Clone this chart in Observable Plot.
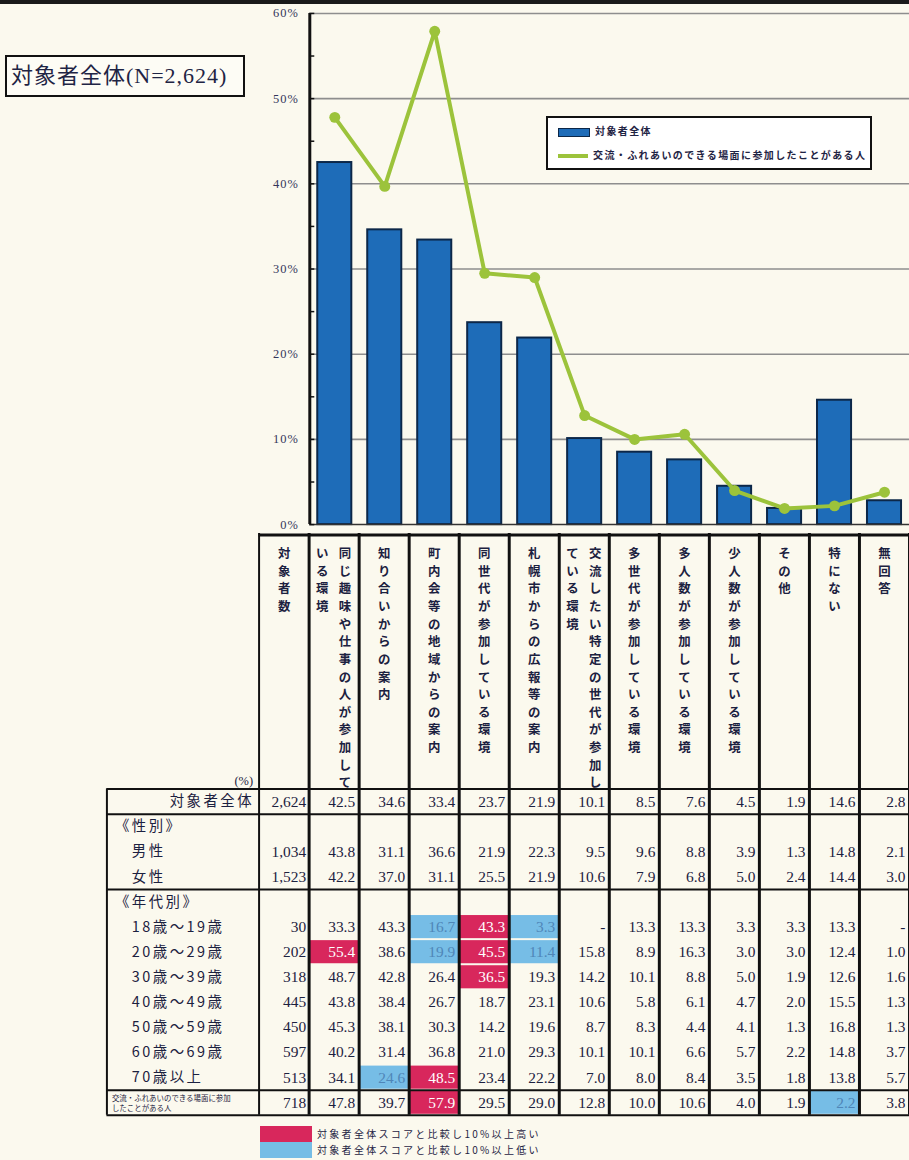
<!DOCTYPE html>
<html><head><meta charset="utf-8">
<script src="https://cdn.jsdelivr.net/npm/d3@7"></script>
<script src="https://cdn.jsdelivr.net/npm/@observablehq/plot@0.6"></script>
<style>
html,body{margin:0;padding:0;overflow:hidden;background:#fbf9ee;}
body{width:909px;height:1160px;position:relative;font-family:"Liberation Serif","Noto Sans CJK JP",serif;color:#1f2444;}
#topband{position:absolute;left:0;top:0;width:909px;height:4px;background:#1a1a1a;}
#title{position:absolute;left:5px;top:55px;width:232px;height:38px;border:2px solid #111;font-size:22px;line-height:38px;letter-spacing:1px;padding-left:4px;white-space:nowrap;background:#fdfcf5;}
#chart{position:absolute;left:0;top:0;}
#table{position:absolute;left:0;top:533px;}
#legend{position:absolute;left:546px;top:116px;width:322px;height:50px;border:2px solid #111;background:#fff;font-family:"Noto Sans CJK JP",sans-serif;font-size:10px;font-weight:bold;letter-spacing:1.4px;color:#1f2444;}
#legend .it{position:absolute;left:10px;height:14px;line-height:14px;white-space:nowrap;}
#legend .sw{display:inline-block;width:30px;vertical-align:middle;margin-right:5px;}
#tlegend{position:absolute;left:260px;top:1126px;font-family:"Noto Sans CJK JP",sans-serif;font-size:10px;letter-spacing:2.3px;color:#1f2444;}
#tlegend .it{height:16px;line-height:16px;white-space:nowrap;}
#tlegend .sw{display:inline-block;width:52px;height:16px;vertical-align:top;margin-right:5px;}
</style></head>
<body>
<div id="topband"></div>
<div id="chart"></div>
<div id="legend"></div>
<div id="title"></div>
<div id="table"></div>
<div id="tlegend"></div>
<script>
// ---------- data ----------
const cats = ["同じ趣味や仕事の人が参加している環境","知り合いからの案内","町内会等の地域からの案内","同世代が参加している環境","札幌市からの広報等の案内","交流したい特定の世代が参加している環境","多世代が参加している環境","多人数が参加している環境","少人数が参加している環境","その他","特にない","無回答"];
const headerLines = [["同じ趣味や仕事の人が参加して","いる環境"],["知り合いからの案内"],["町内会等の地域からの案内"],["同世代が参加している環境"],["札幌市からの広報等の案内"],["交流したい特定の世代が参加し","ている環境"],["多世代が参加している環境"],["多人数が参加している環境"],["少人数が参加している環境"],["その他"],["特にない"],["無回答"]];
const nHeader = "対象者数";
const seriesTotalName = "対象者全体";
const seriesLineName = "交流・ふれあいのできる場面に参加したことがある人";
const totalValues = [42.5,34.6,33.4,23.7,21.9,10.1,8.5,7.6,4.5,1.9,14.6,2.8];
const participantValues = [47.8,39.7,57.9,29.5,29.0,12.8,10.0,10.6,4.0,1.9,2.2,3.8];
const yTicks = [0,10,20,30,40,50,60];
const yMinorTicks = [0,5,10,15,20,25,30,35,40,45,50,55,60];

const rowLabels = ["対象者全体","《性別》","男性","女性","《年代別》","18歳～19歳","20歳～29歳","30歳～39歳","40歳～49歳","50歳～59歳","60歳～69歳","70歳以上","交流・ふれあいのできる場面に参加\nしたことがある人"];
const rowN = [2624,null,1034,1523,null,30,202,318,445,450,597,513,718];
const rowMale = [43.8,31.1,36.6,21.9,22.3,9.5,9.6,8.8,3.9,1.3,14.8,2.1];
const rowFemale = [42.2,37.0,31.1,25.5,21.9,10.6,7.9,6.8,5.0,2.4,14.4,3.0];
const row18 = [33.3,43.3,16.7,43.3,3.3,null,13.3,13.3,3.3,3.3,13.3,null];
const row20 = [55.4,38.6,19.9,45.5,11.4,15.8,8.9,16.3,3.0,3.0,12.4,1.0];
const row30 = [48.7,42.8,26.4,36.5,19.3,14.2,10.1,8.8,5.0,1.9,12.6,1.6];
const row40 = [43.8,38.4,26.7,18.7,23.1,10.6,5.8,6.1,4.7,2.0,15.5,1.3];
const row50 = [45.3,38.1,30.3,14.2,19.6,8.7,8.3,4.4,4.1,1.3,16.8,1.3];
const row60 = [40.2,31.4,36.8,21.0,29.3,10.1,10.1,6.6,5.7,2.2,14.8,3.7];
const row70 = [34.1,24.6,48.5,23.4,22.2,7.0,8.0,8.4,3.5,1.8,13.8,5.7];
const rowValues = [totalValues,null,rowMale,rowFemale,null,row18,row20,row30,row40,row50,row60,row70,participantValues];
const highLabel = "対象者全体スコアと比較し10%以上高い";
const lowLabel = "対象者全体スコアと比較し10%以上低い";

// ---------- styles ----------
const BLUE_BAR = "#1e6cb8", BAR_EDGE = "#0c2748", GREEN = "#9cc33b";
const PINK = "#d8275c", LIGHTBLUE = "#76bde6", INK = "#1c2140";
const W = 914;

// ---------- chart ----------
const barData = cats.map((c, i) => ({cat: c, i, v: totalValues[i]}));
const lineData = cats.map((c, i) => ({cat: c, i, v: participantValues[i]}));

const chart = Plot.plot({
  width: W, height: 533,
  marginLeft: 311, marginRight: 0, marginTop: 13, marginBottom: 6,
  x: {domain: [0, cats.length], axis: null},
  y: {domain: [0, 60], axis: null},
  style: {background: "transparent", overflow: "visible", fontFamily: "Liberation Serif"},
  marks: [
    Plot.ruleY(yTicks.filter(d => d > 0), {stroke: "#8e8e8e", strokeWidth: 1.6}),
    Plot.rect(barData, {x1: "i", x2: d => d.i + 1, y1: () => 0, y2: "v", insetLeft: 8, insetRight: 8, fill: BLUE_BAR, stroke: BAR_EDGE, strokeWidth: 2}),
    Plot.ruleY([0], {stroke: "#333", strokeWidth: 1.5}),
    Plot.ruleX([0], {stroke: "#111", strokeWidth: 3}),
    Plot.ruleY(yMinorTicks, {insetRight: W - 311 - 5, stroke: "#111", strokeWidth: 1.5}),
    Plot.axisY(yTicks, {anchor: "left", tickSize: 0, tickPadding: 11, tickFormat: d => d + "%", fontSize: 12.5, fontFamily: "Liberation Serif", color: "#33365a", label: null}),
    Plot.line(lineData, {x: d => d.i + 0.5, y: "v", stroke: GREEN, strokeWidth: 4}),
    Plot.dot(lineData, {x: d => d.i + 0.5, y: "v", r: 5.5, fill: GREEN})
  ]
});
document.getElementById("chart").append(chart);

// chart legend
const lg = document.getElementById("legend");
lg.innerHTML = `<div class="it" style="top:6px"><span class="sw" style="height:7px;background:${BLUE_BAR};border:1px solid ${BAR_EDGE}"></span>${seriesTotalName}</div>
<div class="it" style="top:30px"><span class="sw" style="height:4px;background:${GREEN}"></span>${seriesLineName}</div>`;

document.getElementById("title").textContent = `${seriesTotalName}(N=${d3.format(",")(rowN[0])})`;

// ---------- table ----------
const cells = [];
rowValues.forEach((vals, r) => {
  if (!vals) return;
  vals.forEach((v, k) => {
    let hi = null;
    if (r > 0 && v != null) {
      const diff = Math.round((v - totalValues[k]) * 10);
      if (diff >= 100) hi = "high"; else if (diff <= -100) hi = "low";
    }
    cells.push({r, j: k + 1, v, hi});
  });
});
const nCells = rowN.map((n, r) => ({r, n})).filter(d => d.n != null);
const rowData = rowLabels.map((label, r) => ({r, label, kind: r === 0 ? "total" : r === rowLabels.length - 1 ? "tiny" : label.startsWith("《") ? "group" : "sub"}));
const vert = s => Array.from(s).join("\n");
const headers = [{j: 0, lines: [nHeader]}].concat(headerLines.map((lines, k) => ({j: k + 1, lines})));
const singleHead = headers.filter(h => h.lines.length === 1).map(h => ({j: h.j, t: h.lines[0]}));
const rightHead = headers.filter(h => h.lines.length === 2).map(h => ({j: h.j, t: h.lines[0]}));
const leftHead = headers.filter(h => h.lines.length === 2).map(h => ({j: h.j, t: h.lines[1]}));
const nRows = rowLabels.length;
const hLines = [0, 1, rowLabels.indexOf("《年代別》"), nRows - 1, nRows];
const colLines = d3.range(1, cats.length + 2);

const headText = {frameAnchor: "top", dy: -245, lineAnchor: "top", lineHeight: 1.42, fontSize: 12.5, fontWeight: "bold", fontFamily: "Noto Sans CJK JP", fill: INK};

const table = Plot.plot({
  width: W, height: 589,
  marginLeft: 260, marginRight: 0, marginTop: 257, marginBottom: 4,
  x: {domain: [0, cats.length + 1], axis: null},
  y: {domain: [0, nRows], reverse: true, axis: null},
  style: {background: "transparent", overflow: "visible", fontFamily: "Liberation Serif"},
  marks: [
    Plot.rect(cells.filter(d => d.hi), {x1: "j", x2: d => d.j + 1, y1: "r", y2: d => d.r + 1, insetTop: 1, insetBottom: 1, fill: d => d.hi === "high" ? PINK : LIGHTBLUE}),
    Plot.text(cells, {x: d => d.j + 1, y: d => d.r + 0.5, text: d => d.v == null ? "-" : d.v.toFixed(1), textAnchor: "end", dx: -4, fontSize: 15.5, fill: d => d.hi === "high" ? "#ffffff" : d.hi === "low" ? "#4f86b8" : INK}),
    Plot.text(nCells, {x: () => 1, y: d => d.r + 0.5, text: d => d3.format(",")(d.n), textAnchor: "end", dx: -3, fontSize: 15.5, fill: INK}),
    Plot.text(rowData.filter(d => d.kind === "total"), {y: d => d.r + 0.5, text: "label", frameAnchor: "left", textAnchor: "end", dx: -5, fontSize: 14.5, fontFamily: "Noto Sans CJK JP", fill: INK}),
    Plot.text(rowData.filter(d => d.kind === "group"), {y: d => d.r + 0.5, text: "label", frameAnchor: "left", textAnchor: "start", dx: -145, fontSize: 14.5, fontFamily: "Noto Sans CJK JP", fill: INK}),
    Plot.text(rowData.filter(d => d.kind === "sub"), {y: d => d.r + 0.5, text: "label", frameAnchor: "left", textAnchor: "start", dx: -128, fontSize: 14.5, fontFamily: "Noto Sans CJK JP", fill: INK}),
    Plot.text(rowData.filter(d => d.kind === "tiny"), {y: d => d.r + 0.5, text: "label", frameAnchor: "left", textAnchor: "start", dx: -148, fontSize: 7.5, lineHeight: 1.35, fontFamily: "Noto Sans CJK JP", fill: INK}),
    Plot.text(["(%)"], {frameAnchor: "top-left", textAnchor: "end", dx: -6, dy: -13, fontSize: 12.5, fill: INK}),
    Plot.text(singleHead, {x: d => d.j + 0.5, text: d => vert(d.t), ...headText}),
    Plot.text(rightHead, {x: d => d.j + 0.5, text: d => vert(d.t), dx: 11, ...headText}),
    Plot.text(leftHead, {x: d => d.j + 0.5, text: d => vert(d.t), dx: -12, ...headText}),
    Plot.ruleX([0], {insetTop: -257, stroke: "#111", strokeWidth: 2}),
    Plot.ruleX(colLines, {insetTop: -257, stroke: "#111", strokeWidth: 3}),
    Plot.ruleX([0], {dx: -153, stroke: "#111", strokeWidth: 2}),
    Plot.ruleY(hLines, {insetLeft: -153, stroke: "#111", strokeWidth: 2}),
    Plot.ruleY([0], {dy: -255.5, stroke: "#111", strokeWidth: 3})
  ]
});
document.getElementById("table").append(table);
d3.select(table).selectAll('g[font-size="14.5"] text').style("letter-spacing", "2.5px");
d3.select(chart).selectAll("text").style("letter-spacing", "1px");

// table legend
document.getElementById("tlegend").innerHTML =
  `<div class="it"><span class="sw" style="background:${PINK}"></span>${highLabel}</div>` +
  `<div class="it"><span class="sw" style="background:${LIGHTBLUE}"></span>${lowLabel}</div>`;
</script>
</body></html>
